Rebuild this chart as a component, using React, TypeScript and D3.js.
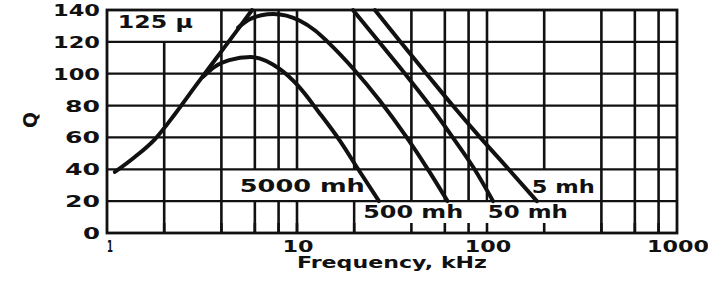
import { useMemo } from "react"
import * as d3 from "d3"

// grid + axis values
const freqGrid = [2, 4, 6, 8, 10, 20, 40, 60, 80, 100, 200, 400, 600, 800]
const qTicks = [0, 20, 40, 60, 80, 100, 120, 140]
const freqLabels = [1, 10, 100, 1000]

// 125 μ core envelope (rising line)
const envF = [1.1, 1.4, 1.79, 2.28, 2.9, 3.7, 4.72, 5.8]
const envQ = [38.3, 47.7, 59, 74.7, 91.7, 108.6, 125.5, 140]

// inductance curves
const f5000 = [3.2, 3.7, 4.4, 5.7, 8.1, 10.2, 13, 16.8, 21, 27]
const q5000 = [98, 104.5, 108.5, 110.5, 103, 92, 76, 58, 40, 20]
const f500 = [4.9, 5.6, 6.5, 7.5, 8.8, 10.3, 12.5, 14.5, 20, 27.3, 37.8, 50, 62]
const q500 = [129, 134, 136.7, 137.5, 136.5, 133.4, 127, 120, 102.5, 83, 60, 38.1, 20]
const f50 = [19.7, 27, 37, 50, 66, 86, 107.6]
const q50 = [140, 120, 100, 80, 60, 40, 20]
const f5 = [25.7, 35, 48, 66, 92, 130, 183]
const q5 = [140, 120, 100, 80, 60, 40, 20]

// label boxes (frequency range x Q row) that blank the grid
const boxF0 = [1, 4, 100, 20]
const boxF1 = [4, 40, 400, 400]
const boxQ0 = [120, 20, 20, 0]
const boxQ1 = [140, 40, 40, 20]

// curve labels
const labelText = ["125 μ", "5000 mh", "500 mh", "50 mh", "5 mh"]
const labelF = [1.14, 5.0, 22.3, 101, 172]
const labelQ = [128.7, 25.7, 9.4, 9.4, 25]
const labelW = [75, 125, 100, 80, 63]

const FONT = "'DejaVu Sans', sans-serif"
const INK = "#111"

export default function App() {
  const W = 708
  const H = 286
  const x = d3.scaleLog().domain([1, 1000]).range([107, 677])
  const y = d3.scaleLinear().domain([0, 140]).range([233, 10])

  const line = d3
    .line<[number, number]>()
    .x((d) => x(d[0]))
    .y((d) => y(d[1]))
    .curve(d3.curveMonotoneX)

  const curves = useMemo(
    () => [
      d3.zip(envF, envQ),
      d3.zip(f5000, q5000),
      d3.zip(f500, q500),
      d3.zip(f50, q50),
      d3.zip(f5, q5),
    ],
    []
  )

  const yLabelW = (q: number) => (q >= 100 ? 47 : q > 0 ? 35 : 17)
  const xLabelW = (f: number) => (f === 1 ? 6 : String(f).length * 15.5)

  return (
    <svg
      width={W}
      height={H}
      style={{ position: "absolute", left: 0, top: 0, background: "#fff" }}
    >
      <rect width={W} height={H} fill="#fff" />

      {/* vertical grid */}
      {freqGrid.map((f) => (
        <line key={"v" + f} x1={x(f)} x2={x(f)} y1={y(140)} y2={y(0)} stroke={INK} strokeWidth={2.6} />
      ))}

      {/* label boxes hide the grid behind them */}
      {boxF0.map((f0, i) => (
        <rect
          key={"b" + i}
          x={x(f0) + 1.6}
          y={y(boxQ1[i])}
          width={x(boxF1[i]) - x(f0) - 3.2}
          height={y(boxQ0[i]) - y(boxQ1[i])}
          fill="#fff"
        />
      ))}

      {/* bottom ticks */}
      {freqGrid.map((f) => (
        <line key={"t" + f} x1={x(f)} x2={x(f)} y1={y(0) - 10} y2={y(0)} stroke={INK} strokeWidth={2.6} />
      ))}

      {/* horizontal grid */}
      {qTicks.map((q) => (
        <line key={"h" + q} x1={x(1)} x2={x(1000)} y1={y(q)} y2={y(q)} stroke={INK} strokeWidth={2.2} />
      ))}
      <rect
        x={x(1)}
        y={y(140)}
        width={x(1000) - x(1)}
        height={y(0) - y(140)}
        fill="none"
        stroke={INK}
        strokeWidth={2.8}
      />

      {/* curves */}
      {curves.map((c, i) => (
        <path
          key={"c" + i}
          d={line(c as [number, number][]) ?? ""}
          fill="none"
          stroke={INK}
          strokeWidth={4}
          strokeLinecap="round"
        />
      ))}

      <g fontFamily={FONT} fontWeight="bold" fill={INK}>
        {/* y tick labels */}
        {qTicks.map((q) => (
          <text
            key={"yl" + q}
            x={x(1) - 7 - yLabelW(q)}
            y={y(q) + 6}
            fontSize={16}
            textLength={yLabelW(q)}
            lengthAdjust="spacingAndGlyphs"
          >
            {q}
          </text>
        ))}

        {/* x tick labels */}
        {freqLabels.map((f) => (
          <text
            key={"xl" + f}
            x={x(f) + (f === 1 ? 3 : 1) - xLabelW(f) / 2}
            y={252}
            fontSize={16}
            textLength={xLabelW(f)}
            lengthAdjust="spacingAndGlyphs"
          >
            {f}
          </text>
        ))}

        <text x={297} y={268} fontSize={16} textLength={190} lengthAdjust="spacingAndGlyphs">
          Frequency, kHz
        </text>
        <text
          transform="translate(37,120) rotate(-90)"
          x={-8}
          y={0}
          fontSize={19}
          textLength={16}
          lengthAdjust="spacingAndGlyphs"
        >
          Q
        </text>

        {/* curve labels */}
        {labelText.map((t, i) => (
          <text
            key={"lb" + i}
            x={x(labelF[i])}
            y={y(labelQ[i])}
            fontSize={17}
            textLength={labelW[i]}
            lengthAdjust="spacingAndGlyphs"
          >
            {t}
          </text>
        ))}
      </g>
    </svg>
  )
}
